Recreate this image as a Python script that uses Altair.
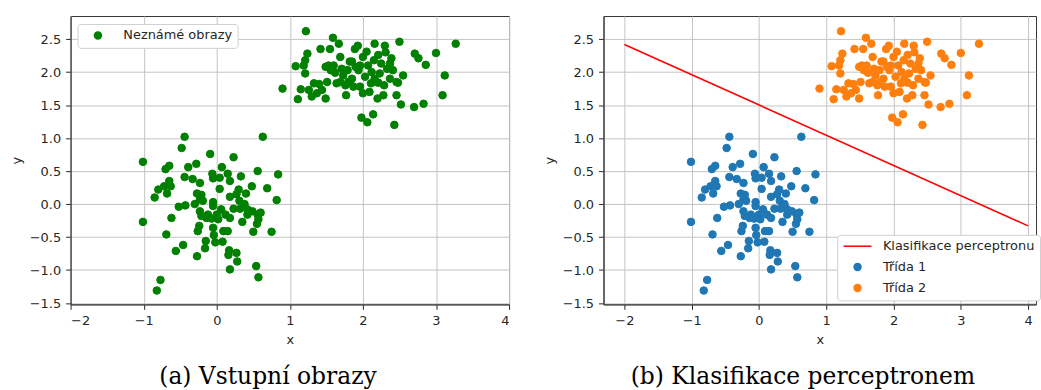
import altair as alt
import pandas as pd

# ---- data ----
x1 = [-1.01, -1.01, -0.85, -0.82, -0.77, -0.80, -0.70, -0.65, -0.69, -0.65,
      -0.72, -0.68, -0.63, -0.62, -0.56, -0.52, -0.46, -0.48, -0.44, -0.44,
      -0.43, -0.39, -0.33, -0.28, -0.27, -0.23, -0.27, -0.26, -0.24, -0.23,
      -0.21, -0.19, -0.23, -0.21, -0.15, -0.16, -0.14, -0.09, -0.06, -0.05,
      -0.05, -0.05, -0.07, -0.05, -0.04, -0.02, 0.00, 0.04, 0.07, 0.04,
      0.06, 0.09, 0.08, 0.12, 0.15, 0.18, 0.18, 0.17, 0.16, 0.18,
      0.23, 0.23, 0.27, 0.28, 0.30, 0.31, 0.33, 0.35, 0.32, 0.40,
      0.42, 0.42, 0.48, 0.49, 0.50, 0.54, 0.57, 0.56, 0.56, 0.55,
      0.57, 0.60, 0.63, 0.69, 0.75, 0.82, 0.84,
      -0.30, 0.02, 0.18, 0.27, 0.38, -0.12, 0.15]
y1 = [0.64, -0.27, 0.10, -1.31, -1.15, 0.22, 0.53, 0.58, -0.46, 0.35,
      0.27, 0.16, 0.27, -0.21, -0.71, -0.04, -0.62, 0.85, 1.02, 0.41,
      -0.02, 0.56, 0.38, 0.61, 0.16, 0.32, -0.79, -0.41, -0.33, 0.07,
      0.14, 0.05, -0.11, -0.18, -0.56, -0.67, -0.21, 0.76, 0.46, 0.39,
      0.03, -0.03, -0.22, -0.36, -0.47, -0.58, -0.16, 0.23, 0.56, 0.40,
      -0.08, -0.41, -0.57, -0.16, 0.46, 0.35, 0.11, -0.70, -0.77, -0.99,
      0.71, -0.07, -0.74, -0.87, 0.22, 0.05, 0.42, -0.27, -0.07, 0.16,
      -0.08, -0.16, 0.27, -0.11, -0.42, -0.94, -1.11, 0.50, -0.16, -0.30,
      -0.23, -0.13, 1.02, 0.24, -0.42, 0.06, 0.45,
      0.00, -0.23, -0.21, 0.15, 0.00, -0.16, -0.41]

x2 = [0.90, 1.08, 1.11, 1.15, 1.19, 1.21, 1.22, 1.21, 1.24, 1.26,
      1.30, 1.33, 1.37, 1.42, 1.40, 1.44, 1.49, 1.49, 1.51, 1.53,
      1.55, 1.59, 1.60, 1.62, 1.64, 1.67, 1.69, 1.71, 1.73, 1.76,
      1.77, 1.79, 1.82, 1.85, 1.87, 1.89, 1.90, 1.93, 1.94, 1.96,
      1.98, 2.00, 2.03, 2.05, 2.06, 2.07, 2.09, 2.12, 2.14, 2.15,
      2.16, 2.18, 2.20, 2.21, 2.23, 2.25, 2.28, 2.29, 2.30, 2.31,
      2.33, 2.37, 2.39, 2.41, 2.43, 2.46, 2.48, 2.50, 2.52, 2.55,
      2.70, 2.71, 2.76, 2.83, 2.86, 3.00, 3.09, 3.12, 3.27,
      1.80, 1.56, 2.11, 2.00, 2.37, 1.85, 2.21, 1.69, 1.96, 2.46, 2.16]
y2 = [1.75, 2.09, 1.59, 1.74, 2.10, 1.98, 2.62, 2.18, 2.28, 1.73,
      1.63, 1.83, 1.68, 2.35, 1.82, 1.73, 1.60, 2.08, 1.85, 2.10,
      2.35, 2.52, 2.10, 1.99, 1.83, 2.43, 2.23, 2.05, 1.95, 1.80,
      1.65, 2.03, 2.16, 1.90, 1.78, 2.35, 2.08, 2.40, 2.03, 1.78,
      1.31, 2.23, 1.93, 2.31, 1.24, 2.10, 1.70, 2.00, 1.36, 2.18,
      2.43, 1.85, 1.60, 2.26, 1.98, 2.13, 1.65, 1.80, 2.40, 2.30,
      2.05, 1.90, 2.21, 2.03, 1.20, 1.65, 1.84, 2.46, 1.51, 1.95,
      1.47, 2.28, 2.21, 1.52, 2.11, 2.29, 1.65, 1.95, 2.43,
      1.85, 2.03, 1.83, 1.68, 2.13, 2.16, 1.84, 1.85, 2.10, 1.85, 1.90]

line_x = [-2.0, 4.0]
line_y = [2.42, -0.33]

left_label = "Neznámé obrazy"
series_names = ["Klasifikace perceptronu", "Třída 1", "Třída 2"]
series_colors = ["#ff0000", "#1f77b4", "#ff7f0e"]
left_color = "#008000"
captions = ["(a) Vstupní obrazy", "(b) Klasifikace perceptronem"]
x_ticks = [-2, -1, 0, 1, 2, 3, 4]
y_ticks = [-1.5, -1.0, -0.5, 0.0, 0.5, 1.0, 1.5, 2.0, 2.5]

# ---- tables ----
all_df = pd.DataFrame({"x": x1 + x2, "y": y1 + y2, "label": left_label})
cls_df = pd.DataFrame({
    "x": x1 + x2, "y": y1 + y2,
    "series": [series_names[1]] * len(x1) + [series_names[2]] * len(x2),
})
line_df = pd.DataFrame({"x": line_x, "y": line_y})

FONT = "DejaVu Sans"
TXT = "#262626"

y_scale = alt.Scale(domain=[-1.52, 2.85], nice=False, zero=False)


def x_axis():
    return alt.Axis(values=x_ticks, format="d", title="x")


def y_axis():
    return alt.Axis(values=y_ticks, format=".1f", title="y")


def caption(text, dx):
    return alt.Title(text, orient="bottom", anchor="middle", frame="group",
                     dx=dx, offset=19, font="DejaVu Serif", fontSize=23.5,
                     fontWeight="normal", color="black")


left = alt.Chart(all_df).mark_point(
    filled=True, size=58, opacity=1, stroke=left_color, strokeWidth=1
).encode(
    x=alt.X("x:Q", scale=alt.Scale(domain=[-2, 4], nice=False, zero=False), axis=x_axis()),
    y=alt.Y("y:Q", scale=y_scale, axis=y_axis()),
    color=alt.Color("label:N", scale=alt.Scale(domain=[left_label], range=[left_color]),
                    legend=alt.Legend(title=None, orient="none", legendX=7, legendY=8,
                                      symbolSize=49, symbolType="circle", symbolOffset=9,
                                      labelOffset=19, padding=5, labelFontSize=13,
                                      labelFont=FONT, labelColor=TXT, fillColor="white",
                                      strokeColor="#d0d0d0", cornerRadius=3)),
).properties(width=441, height=290, title=caption(captions[0], -22))

leg = alt.Legend(title=None, orient="none", legendX=771, legendY=220,
                 symbolSize=49, symbolStrokeWidth=1.5, symbolOffset=9,
                 labelOffset=19, padding=5, rowPadding=7, labelFontSize=13,
                 labelFont=FONT, labelColor=TXT, fillColor="white",
                 strokeColor="#d0d0d0", cornerRadius=3, labelLimit=400)

rx = alt.X("x:Q", scale=alt.Scale(domain=[-2.31, 4.118], nice=False, zero=False), axis=x_axis())
ry = alt.Y("y:Q", scale=y_scale, axis=y_axis())

right_line = alt.Chart(line_df).mark_line(color="#ff0000", strokeWidth=1.6).encode(x=rx, y=ry)
right_pts = alt.Chart(cls_df).mark_point(filled=True, size=58, opacity=1, strokeWidth=1).encode(
    x=rx, y=ry,
    fill=alt.Fill("series:N", scale=alt.Scale(domain=series_names, range=series_colors), legend=leg),
    stroke=alt.Stroke("series:N", scale=alt.Scale(domain=series_names, range=series_colors), legend=leg),
    shape=alt.Shape("series:N", scale=alt.Scale(domain=series_names,
                                                range=["M-4,0H4", "circle", "circle"]), legend=leg),
)
right = alt.layer(right_line, right_pts).properties(
    width=435, height=290, title=caption(captions[1], -17))

chart = alt.hconcat(left, right, spacing=95, bounds="flush").properties(
    padding={"left": 9, "top": 14, "right": 0, "bottom": 0}
).configure_view(
    stroke="#333333", strokeWidth=1
).configure_axis(
    labelFont=FONT, labelFontSize=13, labelColor=TXT,
    titleFont=FONT, titleFontSize=13, titleFontWeight="normal", titleColor=TXT,
    tickColor=TXT, tickSize=5, labelPadding=5, tickWidth=1,
    domainColor="#333333", domainWidth=1,
    gridColor="#c4c4c4", gridWidth=1, grid=True, titlePadding=6,
).configure_axisY(titlePadding=6)

chart.save("out.html", embed_options={"renderer": "svg", "actions": False})
